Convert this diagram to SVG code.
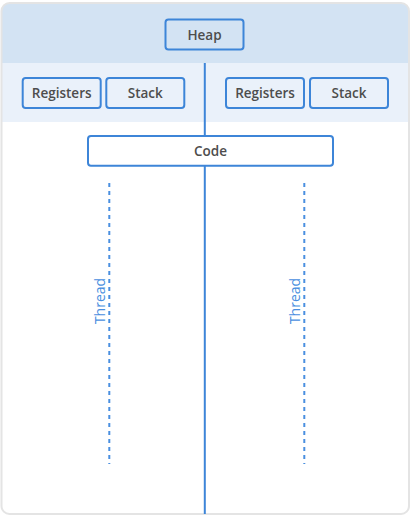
<svg xmlns="http://www.w3.org/2000/svg" width="411" height="518" viewBox="0 0 411 518">
<style>
.box{fill:#ffffff;stroke:#3d85d8;stroke-width:2}
.lbl{font-family:"Open Sans","Liberation Sans",sans-serif;font-size:13.5px;font-weight:600;fill:#4d4d4d;text-anchor:middle}
.thr{font-family:"Open Sans","Liberation Sans",sans-serif;font-size:14px;fill:#4a8fe0;text-anchor:middle}
.dash{stroke:#4a8fe0;stroke-width:2;stroke-dasharray:4 4;fill:none}
</style>
<defs>
<clipPath id="fc"><rect x="1.5" y="3" width="407.5" height="511" rx="8"/></clipPath>
</defs>
<g id="frame">
<rect x="1.5" y="3" width="407.5" height="511" rx="8" fill="#ffffff"/>
<g clip-path="url(#fc)">
<rect x="0" y="0" width="411" height="63" fill="#d3e3f3"/>
<rect x="0" y="63" width="411" height="59" fill="#eaf1fa"/>
</g>
<rect x="1.5" y="3" width="407.5" height="511" rx="8" fill="none" stroke="#e4e4e4" stroke-width="2"/>
</g>
<g id="connectors">
<line x1="204.8" y1="63" x2="204.8" y2="514" stroke="#3d85d8" stroke-width="2"/>
<line class="dash" x1="109.3" y1="183" x2="109.3" y2="464"/>
<line class="dash" x1="304.3" y1="183" x2="304.3" y2="464"/>
</g>
<g id="heap">
<rect class="box" x="165.5" y="19.5" width="78" height="30" rx="3" style="fill:#d3e3f3"/>
<text class="lbl" x="204.5" y="39.5">Heap</text>
</g>
<g id="registers1">
<rect class="box" x="22.7" y="78" width="78" height="30" rx="3" style="fill:#eaf1fa"/>
<text class="lbl" x="61.7" y="98">Registers</text>
</g>
<g id="stack1">
<rect class="box" x="106.3" y="78" width="78" height="30" rx="3" style="fill:#eaf1fa"/>
<text class="lbl" x="145.3" y="98">Stack</text>
</g>
<g id="registers2">
<rect class="box" x="226" y="78" width="78" height="30" rx="3" style="fill:#eaf1fa"/>
<text class="lbl" x="265" y="98">Registers</text>
</g>
<g id="stack2">
<rect class="box" x="310" y="78" width="78" height="30" rx="3" style="fill:#eaf1fa"/>
<text class="lbl" x="349" y="98">Stack</text>
</g>
<g id="code">
<rect class="box" x="88" y="136" width="245" height="29.7" rx="3"/>
<text class="lbl" x="210.5" y="155.8">Code</text>
</g>
<g id="thread1">
<text class="thr" transform="translate(105,301) rotate(-90)">Thread</text>
</g>
<g id="thread2">
<text class="thr" transform="translate(300,301) rotate(-90)">Thread</text>
</g>
</svg>
